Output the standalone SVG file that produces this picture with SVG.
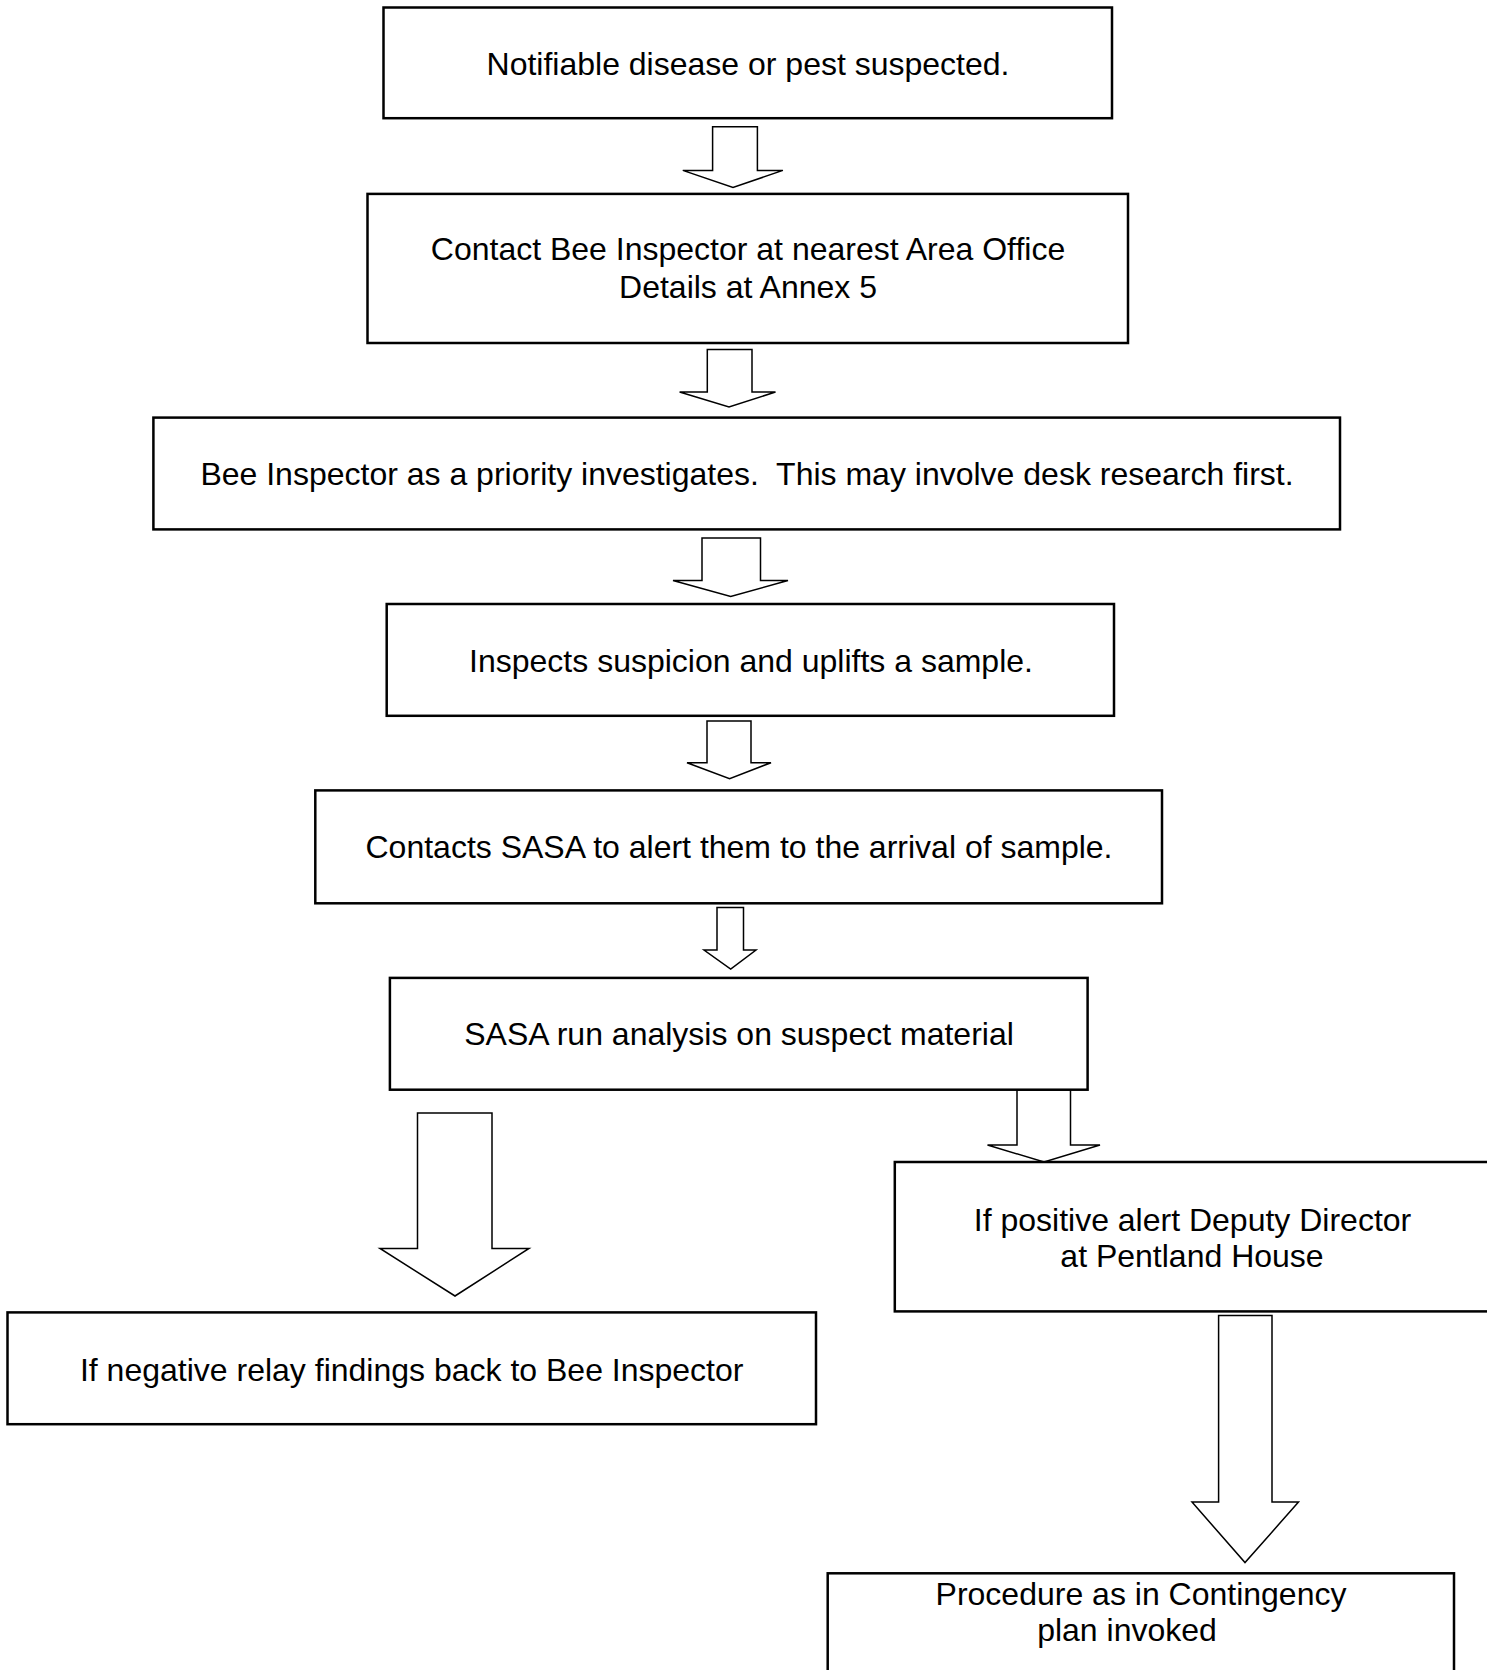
<svg xmlns="http://www.w3.org/2000/svg" width="1487" height="1670" viewBox="0 0 1487 1670">
<style>
.box{fill:#fff;stroke:#000;stroke-width:2.5}
.arr{fill:#fff;stroke:#000;stroke-width:1.5;stroke-linejoin:miter}
.t{font-family:"Liberation Sans",Arial,sans-serif;font-size:32px;fill:#000;text-anchor:middle}
</style>
<rect width="1487" height="1670" fill="#fff"/>
<g id="connectors">
<path class="arr" d="M712.6,126.8 H757.4 V170.4 H782.9 L733,187.5 L682.8,170.4 H712.6 Z"/>
<path class="arr" d="M707.3,349.4 H752 V392 H775.5 L729,407 L679.6,392 H707.3 Z"/>
<path class="arr" d="M702,538 H760.5 V580.5 H788 L730.7,596.5 L673,580.5 H702 Z"/>
<path class="arr" d="M707,721 H751 V762.7 H771 L729.6,778.7 L687,762.7 H707 Z"/>
<path class="arr" d="M717,907.5 H743.5 V950 H756 L730.7,969 L704,950 H717 Z"/>
<path class="arr" d="M1017,1090 H1070.5 V1145 H1100 L1044,1162 L987.5,1145 H1017 Z"/>
<path class="arr" d="M417.5,1113 H492 V1248.5 H529 L455,1296 L380,1248.5 H417.5 Z"/>
<path class="arr" d="M1218.6,1315.5 H1272 V1502 H1298.5 L1245,1562.6 L1192,1502 H1218.6 Z"/>
</g>
<g id="n1"><rect class="box" x="383.5" y="7.5" width="728.5" height="110.7"/><text class="t" x="748" y="75">Notifiable disease or pest suspected.</text></g>
<g id="n2"><rect class="box" x="367.5" y="193.9" width="760.5" height="149.1"/><text class="t" x="748" y="260">Contact Bee Inspector at nearest Area Office</text><text class="t" x="748" y="298">Details at Annex 5</text></g>
<g id="n3"><rect class="box" x="153.4" y="417.6" width="1186.6" height="111.8"/><text class="t" x="747" y="485" xml:space="preserve">Bee Inspector as a priority investigates.  This may involve desk research first.</text></g>
<g id="n4"><rect class="box" x="386.7" y="604" width="727.3" height="111.8"/><text class="t" x="751" y="672">Inspects suspicion and uplifts a sample.</text></g>
<g id="n5"><rect class="box" x="315.3" y="790.4" width="846.7" height="112.9"/><text class="t" x="739" y="858">Contacts SASA to alert them to the arrival of sample.</text></g>
<g id="n6"><rect class="box" x="389.9" y="977.9" width="697.7" height="111.8"/><text class="t" x="739" y="1045">SASA run analysis on suspect material</text></g>
<g id="n7"><rect class="box" x="894.8" y="1162" width="605" height="149.4"/><text class="t" x="1192.5" y="1231">If positive alert Deputy Director</text><text class="t" x="1192" y="1267">at Pentland House</text></g>
<g id="n8"><rect class="box" x="7.5" y="1312.4" width="808.5" height="111.8"/><text class="t" x="411.7" y="1381">If negative relay findings back to Bee Inspector</text></g>
<g id="n9"><rect class="box" x="827.7" y="1573.3" width="626.3" height="110"/><text class="t" x="1141" y="1605">Procedure as in Contingency</text><text class="t" x="1127" y="1641">plan invoked</text></g>
</svg>
